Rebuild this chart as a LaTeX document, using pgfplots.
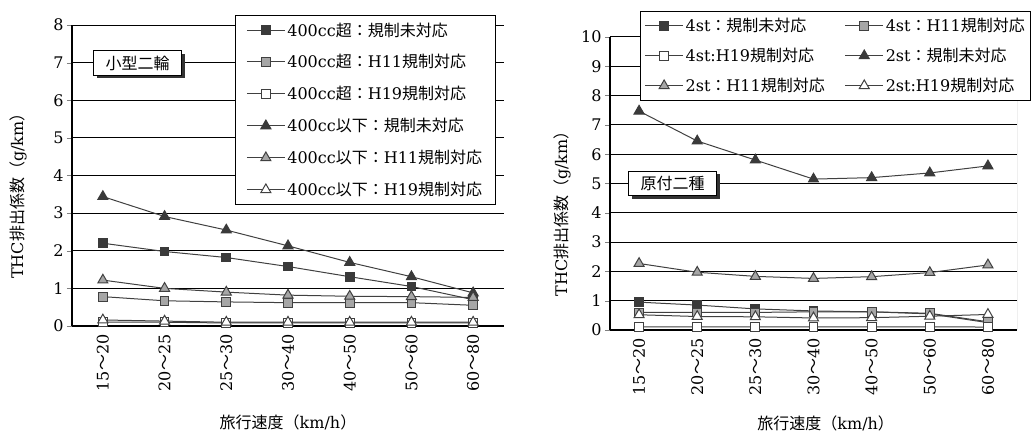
\documentclass[border=0pt]{standalone}
\usepackage{pgfplots}
\pgfplotsset{compat=1.18}
\usepackage{fontspec}
\setmainfont{DejaVu Serif}
\newfontfamily\cjk{Noto Sans CJK JP}
\usetikzlibrary{shadows}
\newcommand\fs{\fontsize{16}{19}\selectfont}
\definecolor{lc}{HTML}{404040}
\definecolor{dk}{HTML}{3A3A3A}
\definecolor{gr}{HTML}{A6A6A6}
\pgfplotsset{
  sqk/.style={lc, line width=1pt, mark=square*, mark size=4.4pt, mark options={fill=dk, draw=dk, solid}},
  sqg/.style={lc, line width=1pt, mark=square*, mark size=4.4pt, mark options={fill=gr, draw=lc, solid}},
  sqw/.style={lc, line width=1pt, mark=square*, mark size=4.4pt, mark options={fill=white, draw=lc, solid}},
  trk/.style={lc, line width=1pt, mark=triangle*, mark size=5.8pt, mark options={fill=dk, draw=dk, solid}},
  trg/.style={lc, line width=1pt, mark=triangle*, mark size=5.8pt, mark options={fill=gr, draw=lc, solid}},
  trw/.style={lc, line width=1pt, mark=triangle*, mark size=5.8pt, mark options={fill=white, draw=lc, solid}},
  base/.style={
    scale only axis, anchor=south west,
    xmin=-0.5, xmax=6.5, ymin=0,
    xtick={0,...,6},
    xticklabels={15{\cjk ～}20,20{\cjk ～}25,25{\cjk ～}30,30{\cjk ～}40,40{\cjk ～}50,50{\cjk ～}60,60{\cjk ～}80},
    x tick label style={rotate=90, anchor=east, font=\fs},
    major x tick style={draw=none},
    extra x ticks={0.5,1.5,2.5,3.5,4.5,5.5},
    extra x tick labels={},
    extra x tick style={tick align=inside, major tick length=5pt, tick style={black, line width=0.8pt}},
    y tick label style={font=\fs},
    ytick distance=1,
    tick align=outside,
    major tick length=5pt,
    ymajorgrids,
    grid style={black, line width=1pt},
    axis lines*=left,
    axis line style={black, line width=1.6pt, -},
    /pgf/number format/assume math mode=true,
    label style={font=\fs},
    legend image code/.code={\draw[mark repeat=2,mark phase=2,#1] plot coordinates {(0pt,0pt) (19pt,0pt) (38pt,0pt)};},
    legend cell align=left,
  },
}
\begin{document}
\begin{tikzpicture}
\useasboundingbox (0,0) rectangle (1033pt,435pt);
\begin{axis}[base,
  at={(72pt,109pt)}, width=432pt, height=301pt, ymax=8,
  ylabel={THC{\cjk 排出係数（}g/km{\cjk ）}},
  ylabel style={at={(rel axis cs:-0.125,0.445)}, anchor=center, rotate=0},
  xlabel={{\cjk 旅行速度（}km/h{\cjk ）}},
  xlabel style={at={(rel axis cs:0.5,-0.322)}, anchor=center},
  legend style={at={(rel axis cs:0.377,1.033)}, anchor=north west, draw=black, line width=1pt, fill=white, font=\fs, inner xsep=11pt, inner ysep=5pt, row sep=13pt},
]
\addplot[sqk] coordinates {(0,2.20) (1,1.98) (2,1.82) (3,1.58) (4,1.31) (5,1.05) (6,0.70)};
\addlegendentry{400cc{\cjk 超：規制未対応}}
\addplot[sqg] coordinates {(0,0.78) (1,0.67) (2,0.64) (3,0.62) (4,0.62) (5,0.62) (6,0.55)};
\addlegendentry{400cc{\cjk 超：}H11{\cjk 規制対応}}
\addplot[sqw] coordinates {(0,0.10) (1,0.10) (2,0.08) (3,0.08) (4,0.08) (5,0.08) (6,0.08)};
\addlegendentry{400cc{\cjk 超：}H19{\cjk 規制対応}}
\addplot[trk] coordinates {(0,3.44) (1,2.91) (2,2.55) (3,2.13) (4,1.69) (5,1.31) (6,0.88)};
\addlegendentry{400cc{\cjk 以下：規制未対応}}
\addplot[trg] coordinates {(0,1.22) (1,1.00) (2,0.90) (3,0.82) (4,0.79) (5,0.78) (6,0.76)};
\addlegendentry{400cc{\cjk 以下：}H11{\cjk 規制対応}}
\addplot[trw] coordinates {(0,0.16) (1,0.13) (2,0.10) (3,0.10) (4,0.10) (5,0.10) (6,0.10)};
\addlegendentry{400cc{\cjk 以下：}H19{\cjk 規制対応}}
\node[draw=black, line width=1pt, fill=white, font=\cjk\fs, inner xsep=12pt, inner ysep=5pt,
  drop shadow={shadow xshift=3pt, shadow yshift=-3pt, fill=black!80, opacity=1}]
  at (rel axis cs:0.152,0.874) {小型二輪};
\end{axis}
\begin{axis}[base,
  at={(610pt,105pt)}, width=407pt, height=293pt, ymax=10,
  ylabel={THC{\cjk 排出係数（}g/km{\cjk ）}},
  ylabel style={at={(rel axis cs:-0.118,0.41)}, anchor=center, rotate=0},
  xlabel={{\cjk 旅行速度（}km/h{\cjk ）}},
  xlabel style={at={(rel axis cs:0.53,-0.32)}, anchor=center},
  legend columns=2,
  legend style={at={(rel axis cs:0.074,1.089)}, anchor=north west, draw=black, line width=1pt, fill=white, font=\fs, inner xsep=4pt, inner ysep=5pt, row sep=11pt, /tikz/every even column/.append style={column sep=18pt}},
]
\addplot[sqk] coordinates {(0,0.95) (1,0.85) (2,0.72) (3,0.65) (4,0.62) (5,0.55) (6,0.25)};
\addlegendentry{4st{\cjk ：規制未対応}}
\addplot[sqg] coordinates {(0,0.60) (1,0.60) (2,0.60) (3,0.62) (4,0.62) (5,0.57) (6,0.28)};
\addlegendentry{4st{\cjk ：}H11{\cjk 規制対応}}
\addplot[sqw] coordinates {(0,0.11) (1,0.11) (2,0.11) (3,0.11) (4,0.11) (5,0.11) (6,0.10)};
\addlegendentry{4st:H19{\cjk 規制対応}}
\addplot[trk] coordinates {(0,7.47) (1,6.45) (2,5.80) (3,5.15) (4,5.20) (5,5.36) (6,5.60)};
\addlegendentry{2st{\cjk ：規制未対応}}
\addplot[trg] coordinates {(0,2.27) (1,1.97) (2,1.83) (3,1.76) (4,1.82) (5,1.96) (6,2.22)};
\addlegendentry{2st{\cjk ：}H11{\cjk 規制対応}}
\addplot[trw] coordinates {(0,0.52) (1,0.46) (2,0.45) (3,0.41) (4,0.42) (5,0.47) (6,0.53)};
\addlegendentry{2st:H19{\cjk 規制対応}}
\draw[gray, line width=1pt] (rel axis cs:1,0) -- (rel axis cs:1,1);
\node[draw=black, line width=1pt, fill=white, font=\cjk\fs, inner xsep=12pt, inner ysep=5pt,
  drop shadow={shadow xshift=3pt, shadow yshift=-3pt, fill=black!80, opacity=1}]
  at (rel axis cs:0.154,0.5) {原付二種};
\end{axis}
\end{tikzpicture}
\end{document}
